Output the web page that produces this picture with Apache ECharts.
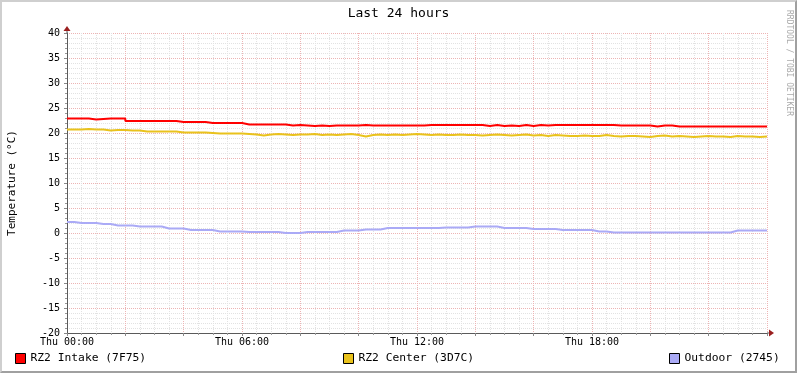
<!DOCTYPE html>
<html>
<head>
<meta charset="utf-8">
<script src="https://cdn.jsdelivr.net/npm/echarts@6/dist/echarts.min.js"></script>
<style>
html,body{margin:0;padding:0;background:#fff;}
#wrap{position:relative;width:797px;height:373px;}
#chart{position:absolute;left:0;top:0;width:797px;height:373px;}
#frame{position:absolute;left:0;top:0;width:797px;height:373px;box-sizing:border-box;
border-top:2px solid #cfcfcf;border-left:2px solid #cfcfcf;border-right:2px solid #a0a0a0;border-bottom:2px solid #a0a0a0;pointer-events:none;}
</style>
</head>
<body>
<div id="wrap"><div id="chart"></div><div id="frame"></div></div>
<script>
const titleText = 'Last 24 hours';
const yAxisName = 'Temperature (°C)';
const xTickLabels = {0:'Thu 00:00', 6:'Thu 06:00', 12:'Thu 12:00', 18:'Thu 18:00'};
const seriesNames = ['RZ2 Intake (7F75)', 'RZ2 Center (3D7C)', 'Outdoor (2745)'];

const hours = [0,0.25,0.5,0.75,1,1.25,1.5,1.75,2,2.25,2.5,2.75,3,3.25,3.5,3.75,4,4.25,4.5,4.75,
5,5.25,5.5,5.75,6,6.25,6.5,6.75,7,7.25,7.5,7.75,8,8.25,8.5,8.75,9,9.25,9.5,9.75,
10,10.25,10.5,10.75,11,11.25,11.5,11.75,12,12.25,12.5,12.75,13,13.25,13.5,13.75,14,14.25,14.5,14.75,
15,15.25,15.5,15.75,16,16.25,16.5,16.75,17,17.25,17.5,17.75,18,18.25,18.5,18.75,19,19.25,19.5,19.75,
20,20.25,20.5,20.75,21,21.25,21.5,21.75,22,22.25,22.5,22.75,23,23.25,23.5,23.75,24];

const intake = [22.9,22.9,22.9,22.7,22.8,22.9,22.9,22.9,
22.4,22.4,22.4,22.4,22.4,22.4,22.4,
22.2,22.2,22.2,22.2,
22.0,22.0,22.0,22.0,22.0,
21.7,21.7,21.7,21.7,21.7,21.7,
21.5,21.6,21.5,21.4,21.5,21.4,21.5,21.5,21.5,21.5,21.6,21.5,21.5,21.5,21.5,21.5,21.5,21.5,21.5,
21.6,21.6,21.6,21.6,21.6,21.6,21.6,21.6,
21.4,21.6,21.4,21.5,21.4,21.6,21.4,21.6,21.5,
21.6,21.6,21.6,21.6,21.6,21.6,21.6,21.6,21.6,
21.5,21.5,21.5,21.5,21.5,
21.3,21.5,21.5,21.3,21.3,21.3,21.3,21.3,21.3,21.3,21.3,21.3,21.3,21.3,21.3,21.3,21.3];

const center = [20.7,20.7,20.8,20.7,20.7,
20.5,20.6,20.6,20.5,20.5,
20.3,20.3,20.3,20.3,20.3,
20.1,20.1,20.1,20.1,
20.0,19.9,19.9,19.9,19.9,19.8,
19.7,19.5,19.7,19.8,19.7,19.6,19.7,19.7,19.8,19.6,19.7,19.6,19.7,19.8,19.6,19.3,19.6,19.7,19.6,19.7,19.6,19.7,19.8,19.7,
19.6,19.7,19.6,19.6,19.7,19.6,19.6,19.5,19.6,19.7,19.6,19.5,19.6,19.7,19.5,19.6,19.4,19.6,19.5,19.4,19.4,19.5,19.4,19.4,
19.6,19.4,19.3,19.4,19.4,19.3,19.2,19.4,19.5,19.3,19.4,19.3,19.2,19.3,19.4,19.3,19.3,19.2,19.4,19.3,19.3,19.2,19.3,19.3];

const outdoor = [2.2,
2.0,2.0,2.0,
1.8,1.8,
1.5,1.5,1.5,
1.3,1.3,1.3,1.3,
0.9,0.9,0.9,
0.6,0.6,0.6,0.6,
0.3,0.3,0.3,0.3,
0.2,0.2,0.2,0.2,0.2,
0.0,0.0,0.0,
0.2,0.2,0.2,0.2,0.2,
0.5,0.5,0.5,
0.7,0.7,0.7,
1.0,1.0,1.0,1.0,1.0,1.0,1.0,1.0,
1.1,1.1,1.1,1.1,
1.3,1.3,1.3,1.3,
1.0,1.0,1.0,1.0,
0.8,0.8,0.8,0.8,
0.6,0.6,0.6,0.6,0.6,
0.3,0.3,
0.1,0.1,0.1,0.1,0.1,0.1,0.1,0.1,0.1,0.1,0.1,0.1,0.1,0.1,0.1,0.1,0.1,
0.5,0.5,0.5,0.5,0.5,0.5];

const colors = ['#FF0000', '#E9C21C', '#AAAAF6'];
const MONO = '"DejaVu Sans Mono", monospace';

function pairs(vals){ return hours.map((h,i)=>[h, vals[i]]); }

const chart = echarts.init(document.getElementById('chart'));
const majorGrid = {show:true, lineStyle:{color:'#EDB4B4', type:[1,1], width:1}};
const minorGrid = {show:true, lineStyle:{color:'#E2E2E2', type:[1,1], width:1}};

function legendAt(left, idx){
  return {
    left: left, top: 353, padding: 0, itemWidth: 10, itemHeight: 10, itemGap: 0,
    icon: 'rect', selectedMode: false,
    data: [{name: seriesNames[idx], itemStyle:{color: colors[idx], borderColor:'#000', borderWidth:1}}],
    textStyle: {fontFamily: MONO, fontSize: 11.3, color: '#000'}
  };
}

chart.setOption({
  animation: false,
  backgroundColor: '#fff',
  title: {text: titleText, left: 'center', top: 7, padding: 0,
    textStyle: {fontFamily: MONO, fontSize: 13, fontWeight: 'normal', color: '#000'}},
  legend: [legendAt(15, 0), legendAt(343, 1), legendAt(669, 2)],
  grid: {left: 67, right: 30, top: 33, bottom: 40, containLabel: false, outerBoundsMode: 'none'},
  xAxis: {
    type: 'value', min: 0, max: 24, interval: 2,
    axisLine: {show: true, onZero: false, lineStyle: {color: '#5a5a5a', width: 1}},
    axisTick: {show: true, length: 3, lineStyle: {color: '#888'}},
    minorTick: {show: true, splitNumber: 4, length: 2, lineStyle: {color: '#999'}},
    splitLine: majorGrid,
    minorSplitLine: minorGrid,
    axisLabel: {fontFamily: MONO, fontSize: 10, color: '#000', margin: 4,
      showMinLabel: true, showMaxLabel: false,
      formatter: v => xTickLabels[v] || ''}
  },
  yAxis: {
    type: 'value', min: -20, max: 40, interval: 5,
    name: yAxisName, nameLocation: 'middle', nameGap: 49, nameRotate: 90,
    nameTextStyle: {fontFamily: MONO, fontSize: 11, color: '#000'},
    axisLine: {show: true, onZero: false, lineStyle: {color: '#5a5a5a', width: 1}},
    axisTick: {show: true, length: 3, lineStyle: {color: '#888'}},
    minorTick: {show: true, splitNumber: 5, length: 2, lineStyle: {color: '#999'}},
    splitLine: majorGrid,
    minorSplitLine: minorGrid,
    axisLabel: {fontFamily: MONO, fontSize: 10, color: '#000', margin: 7}
  },
  series: [
    {name: seriesNames[0], type: 'line', step: 'end', data: pairs(intake), symbol: 'none',
      lineStyle: {color: colors[0], width: 2}, itemStyle: {color: colors[0]}, z: 4},
    {name: seriesNames[1], type: 'line', step: 'end', data: pairs(center), symbol: 'none',
      lineStyle: {color: colors[1], width: 2}, itemStyle: {color: colors[1]}, z: 3},
    {name: seriesNames[2], type: 'line', step: 'end', data: pairs(outdoor), symbol: 'none',
      lineStyle: {color: colors[2], width: 2}, itemStyle: {color: colors[2]}, z: 3}
  ]
});

// decorations: axis arrows and watermark
const o = chart.convertToPixel({gridIndex: 0}, [0, -20]);
const yTop = chart.convertToPixel({gridIndex: 0}, [0, 40]);
const xEnd = chart.convertToPixel({gridIndex: 0}, [24, -20]);
const arrowColor = '#9A1E1E';
chart.setOption({
  graphic: [
    {type: 'line', shape: {x1: o[0], y1: yTop[1], x2: o[0], y2: yTop[1]-3}, style: {stroke: '#5a5a5a', lineWidth: 1}, z: 10},
    {type: 'polygon', shape: {points: [[o[0], yTop[1]-7], [o[0]-3.5, yTop[1]-2], [o[0]+3.5, yTop[1]-2]]}, style: {fill: arrowColor}, z: 11},
    {type: 'line', shape: {x1: xEnd[0], y1: o[1], x2: xEnd[0]+3, y2: o[1]}, style: {stroke: '#5a5a5a', lineWidth: 1}, z: 10},
    {type: 'polygon', shape: {points: [[xEnd[0]+7, o[1]], [xEnd[0]+2, o[1]-3.5], [xEnd[0]+2, o[1]+3.5]]}, style: {fill: arrowColor}, z: 11},
    {type: 'text', x: 785, y: 10, rotation: -Math.PI/2,
      style: {text: 'RRDTOOL / TOBI OETIKER', fill: '#aaaaaa', font: '8px ' + MONO, textAlign: 'left', textVerticalAlign: 'bottom'}}
  ]
});
</script>
</body>
</html>
